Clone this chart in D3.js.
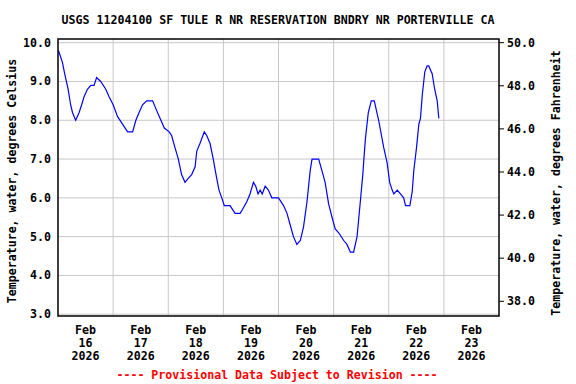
<!DOCTYPE html>
<html><head><meta charset="utf-8">
<script src="https://cdn.jsdelivr.net/npm/d3@7"></script>
<style>
html,body{margin:0;padding:0;background:#fff;}
text{font-family:"DejaVu Sans Mono","Liberation Mono",monospace;font-weight:bold;font-size:11.6px;fill:#000;}
</style></head><body>
<svg id="c" width="576" height="384"></svg>
<script>
const title = "USGS 11204100 SF TULE R NR RESERVATION BNDRY NR PORTERVILLE CA";
const leftLabel = "Temperature, water, degrees Celsius";
const rightLabel = "Temperature, water, degrees Fahrenheit";
const footer = "---- Provisional Data Subject to Revision ----";
const startDate = new Date(2026, 1, 16, 0, 0);
const dayLabels = ["16","17","18","19","20","21","22","23"];
const leftTicks = [3,4,5,6,7,8,9,10];
const rightTicks = [38,40,42,44,46,48,50];
// hours since Feb 16 00:00
const hours = [0.2,1.9,2.9,4.4,5.5,6.3,7.7,9.2,10.3,11.3,12.8,14.3,15.7,16.8,18.6,20.8,22.3,24,25.9,28.1,30.3,32.5,33.9,35.3,36.8,38.6,41.2,42.6,44.8,46.3,48.4,49.5,50.9,52.4,53.8,55.3,56.7,58.2,59.7,60.4,61.8,63.7,64.8,66.2,67.6,69.1,70.1,71.3,72.4,74.9,77.1,79.3,80.3,82.2,83.6,85.1,86.1,87.1,88,88.9,90.2,91.6,93.1,96,98.2,99.7,101.1,102.5,104,105.5,106.9,108.4,109.8,110.6,113.5,114.9,116.3,117.8,119.3,120.7,122.2,124.4,125.8,127.3,128.7,130.2,131.7,132.7,133.8,135.1,136.4,137.7,139.6,141.8,143.3,144.4,145.5,146.2,147.7,149.1,150.5,151.3,153.2,154.2,154.9,156.1,157.1,157.8,158.6,159.7,160.7,161.4,162.9,164.0,165.1,165.8];
const tempC = [9.8,9.5,9.2,8.8,8.4,8.2,8.0,8.2,8.4,8.6,8.8,8.9,8.9,9.1,9.0,8.8,8.6,8.4,8.1,7.9,7.7,7.7,8.0,8.2,8.4,8.5,8.5,8.3,8.0,7.8,7.7,7.6,7.3,7.0,6.6,6.4,6.5,6.6,6.8,7.2,7.4,7.7,7.6,7.4,7.0,6.5,6.2,6.0,5.8,5.8,5.6,5.6,5.7,5.9,6.1,6.4,6.3,6.1,6.2,6.1,6.3,6.2,6.0,6.0,5.8,5.6,5.3,5.0,4.8,4.9,5.25,5.9,6.7,7.0,7.0,6.7,6.4,5.85,5.5,5.2,5.1,4.9,4.8,4.6,4.6,5.0,5.95,6.6,7.5,8.2,8.5,8.5,8.0,7.3,6.9,6.4,6.2,6.1,6.2,6.1,6.0,5.8,5.8,6.15,6.7,7.3,7.9,8.05,8.65,9.25,9.4,9.4,9.2,8.8,8.5,8.05];

const svg = d3.select("#c");
const L = 58, R = 499, T = 39, B = 316;
const x = d3.scaleTime().domain([startDate, d3.timeDay.offset(startDate, 8)]).range([L, R]);
const y = d3.scaleLinear().domain([2.954, 10.095]).range([B, T]);
const f2c = f => (f - 32) * 5 / 9;

// gridlines
const g = svg.append("g");
g.selectAll("line.h").data(leftTicks).join("line")
  .attr("x1", L).attr("x2", R).attr("y1", d => y(d)).attr("y2", d => y(d))
  .attr("stroke", "#c8c8c8").attr("stroke-width", 1);
const days = d3.range(1, 8).map(i => d3.timeDay.offset(startDate, i));
g.selectAll("line.v").data(days).join("line")
  .attr("x1", d => x(d)).attr("x2", d => x(d)).attr("y1", T).attr("y2", B)
  .attr("stroke", "#c8c8c8").attr("stroke-width", 1);

// line
const data = hours.map((h, i) => ({t: d3.timeMinute.offset(startDate, Math.round(h * 60)), v: tempC[i]}));
svg.append("path").datum(data)
  .attr("fill", "none").attr("stroke", "#0000ff").attr("stroke-width", 1.2)
  .attr("d", d3.line().x(d => x(d.t)).y(d => y(d.v)));

// frame
svg.append("rect").attr("x", L).attr("y", T).attr("width", R - L).attr("height", B - T)
  .attr("fill", "none").attr("stroke", "#000").attr("stroke-width", 1.5);

// left labels
svg.append("g").selectAll("text").data(leftTicks).join("text")
  .attr("x", 51).attr("y", d => y(d) + 4).attr("text-anchor", "end")
  .text(d => d.toFixed(1));

// right axis ticks + labels
const rg = svg.append("g");
rg.selectAll("line").data(rightTicks).join("line")
  .attr("x1", R).attr("x2", R + 5).attr("y1", d => y(f2c(d))).attr("y2", d => y(f2c(d)))
  .attr("stroke", "#000").attr("stroke-width", 1);
rg.selectAll("text").data(rightTicks).join("text")
  .attr("x", 507).attr("y", d => y(f2c(d)) + 4).attr("text-anchor", "start")
  .text(d => d.toFixed(1));

// x labels
const xl = svg.append("g");
dayLabels.forEach((lab, i) => {
  const cx = x(d3.timeHour.offset(startDate, i * 24 + 12));
  const t = xl.append("text").attr("x", cx).attr("text-anchor", "middle");
  t.append("tspan").attr("x", cx).attr("y", 334).text("Feb");
  t.append("tspan").attr("x", cx).attr("y", 347).text(lab);
  t.append("tspan").attr("x", cx).attr("y", 360).text("2026");
});

// titles
svg.append("text").attr("x", 278).attr("y", 24).attr("text-anchor", "middle").text(title);
svg.append("text").attr("transform", "translate(16,181) rotate(-90)").attr("text-anchor", "middle").text(leftLabel);
svg.append("text").attr("transform", "translate(560,183) rotate(-90)").attr("text-anchor", "middle").text(rightLabel);
svg.append("text").attr("x", 277).attr("y", 379).attr("text-anchor", "middle").style("fill", "#ff0000").text(footer);
</script></body></html>
